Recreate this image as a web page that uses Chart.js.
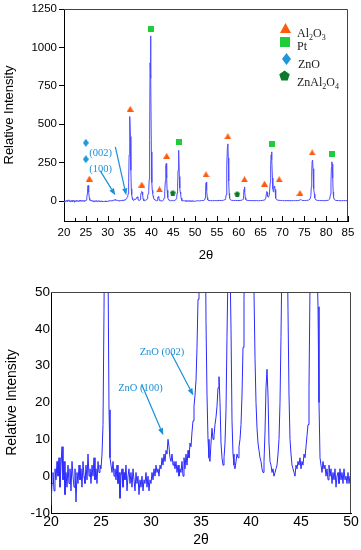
<!DOCTYPE html>
<html>
<head>
<meta charset="utf-8">
<script src="https://cdn.jsdelivr.net/npm/chart.js@4.4.1/dist/chart.umd.min.js"></script>
<style>
    body { margin: 0; background: #fff; }
    canvas { display: block; }
</style>
</head>
<body>
<canvas id="fullChart" width="361" height="270"></canvas>
<canvas id="zoomChart" width="361" height="280"></canvas>
<script>
// measured pattern, 20.0 - 50.0 deg read every 0.1 deg
var lowStart = 20
var lowStep = 0.1
var lowI = [
    -8, -2, 1, -4, 2, -1, 4, 0, 5, -3,
    3, 8, -1, 4, -5, 1, -3, 3, -2, 2,
    -4, 4, 0, -3, 2, -7, 1, -2, 3, -1,
    2, -3, 4, 0, -2, 3, -1, 6, 0, 2,
    -2, 3, 0, 5, -1, 2, -2, 4, 1, 3,
    2, 6, 14, 45, 82, 101, 96, 58, 18, 5,
    3, 1, 4, 0, 2, -1, 3, -2, 1, -6,
    0, 2, -3, 1, -1, 3, -4, 0, 2, -2,
    1, -3, 2, -1, -4, 1, -2, 0, -5, -1,
    -3, 0, -4, -1, -2, 1, -3, 0, -4, -1,
    -2, 1, -1, 2, 0, 3, 1, 2, 0, 3,
    2, 5, 3, 6, 4, 7, 6, 10, 8, 5,
    4, 6, 3, 4, 2, 4, 1, 3, 0, 2,
    1, 4, 0, 5, 2, 6, 3, 7, 5, 9,
    8, 12, 15, 19, 22, 26, 35, 48, 120, 300,
    500, 550, 420, 200, 80, 42, 22, 10, 5, 4,
    9, 13, 10, 11, 14, 16, 19, 24, 27, 20,
    9, 5, 3, 5, 9, 18, 38, 56, 62, 58,
    40, 15, 6, 3, 2, 4, 6, 5, 8, 10,
    14, 22, 35, 48, 70, 140, 400, 900, 1075, 800,
    320, 120, 70, 50, 32, 20, 13, 9, 7, 5,
    4, 2, 1, 4, 12, 24, 29, 22, 9, 4,
    3, 1, 2, 0, 1, 2, 3, 6, 10, 20,
    38, 60, 130, 230, 244, 150, 70, 45, 22, 10,
    6, 3, 2, 1, 0, 3, 2, 4, 3, 5,
    2, 4, 3, 6, 5, 8, 11, 14, 24, 52,
    90, 200, 330, 300, 160, 85, 58, 46, 20, 5,
    3, 1, 4, 2, 3, 0, 2, -1, 3, 0,
    2, -2, 1, -1, 2, -3, 0, 1, -2, 2,
    -1, 1, -2, 2, -1, 0, -2, 1, -2, 0,
    -1
]

// 50 - 85 deg, only the full-range plot shows it
var highX = [
    50.5, 51.0, 51.5, 52.0, 52.2, 52.3, 52.4, 52.5, 52.6, 52.7, 52.8, 52.9, 53.0,
    53.5, 54.0, 54.5, 55.0, 55.5, 56.0, 56.5, 56.9, 57.0, 57.1, 57.2, 57.3, 57.4, 57.5, 57.6, 57.7, 57.8, 57.9, 58.0,
    58.3, 58.8, 59.3, 59.8, 60.3, 60.8, 61.0, 61.1, 61.2, 61.3, 61.4, 61.5, 61.6, 61.8, 62.5,
    63.0, 63.5, 64.0, 64.5, 65.0, 65.5, 66.0, 66.2, 66.3, 66.4, 66.5, 66.6, 66.8,
    67.0, 67.2, 67.3, 67.4, 67.5, 67.6, 67.7, 67.8, 67.9, 68.0, 68.1, 68.2, 68.3, 68.4, 68.5, 68.7, 69.0,
    69.5, 70.0, 70.5, 71.0, 71.5, 72.0, 72.5, 73.0, 73.5, 74.0, 74.2, 74.3, 74.5, 75.0, 75.5, 76.0,
    76.3, 76.5, 76.6, 76.7, 76.8, 76.9, 77.0, 77.1, 77.2, 77.3, 77.4, 77.6, 78.0,
    78.5, 79.0, 79.5, 80.0, 80.5, 80.8, 81.0, 81.1, 81.2, 81.3, 81.4, 81.5, 81.6, 81.7, 81.9, 82.2, 82.8, 83.5, 84.0, 84.5, 85.0
]
var highI = [
    2, 1, 3, 4, 8, 20, 60, 118, 124, 70, 22, 8, 4,
    3, 2, 3, 2, 4, 3, 5, 10, 18, 40, 100, 230, 350, 372, 280, 130, 50, 20, 10,
    5, 3, 4, 3, 4, 6, 12, 35, 75, 92, 60, 22, 9, 5, 3,
    3, 2, 3, 2, 3, 4, 8, 20, 45, 62, 55, 30, 25,
    40, 120, 230, 300, 320, 270, 150, 80, 60, 70, 92, 98, 75, 40, 18, 8, 5,
    4, 3, 2, 3, 2, 3, 2, 3, 3, 6, 10, 8, 4, 3, 4, 6,
    12, 35, 90, 190, 262, 266, 210, 130, 80, 45, 20, 8, 4,
    3, 3, 2, 3, 5, 12, 45, 120, 220, 255, 240, 150, 60, 22, 8, 4, 3, 2, 3, 2, 3
]

// phase markers
var al2o3X = [25.8, 35.15, 37.8, 41.85, 43.5, 52.5, 57.5, 61.3, 65.9, 69.25, 74.0, 76.8]
var al2o3Y = [146, 600, 107, 76, 294, 174, 422, 142, 113, 142, 52, 316]
var ptX = [40.0, 46.4, 67.5, 81.4]
var ptY = [1121, 385, 374, 309]
var znoX = [25.0, 25.0]
var znoY = [379, 272]
var spinelX = [44.9, 59.65]
var spinelY = [55, 48]

var fullXTicks = [20, 25, 30, 35, 40, 45, 50, 55, 60, 65, 70, 75, 80, 85]
var fullYTicks = [0, 250, 500, 750, 1000, 1250]
var zoomXTicks = [20, 25, 30, 35, 40, 45, 50]
var zoomYTicks = [-10, 0, 10, 20, 30, 40, 50]

var pattern = []
lowI.forEach(function (v, i) {
    pattern.push({ x: +(lowStart + i * lowStep).toFixed(1), y: v })
})
highX.forEach(function (x, i) {
    pattern.push({ x: x, y: highI[i] })
})

function pairs(xs, ys) {
    return xs.map(function (x, i) { return { x: x, y: ys[i] } })
}

var C_AL = '#ff5a0a', C_PT = '#1fcc3a', C_ZNO = '#1e96dc', C_SP = '#0b7a2c', C_NOTE = '#1a8fd8'

function shape(kind, w, h, color) {
    var c = document.createElement('canvas')
    c.width = w
    c.height = h
    var g = c.getContext('2d')
    g.fillStyle = color
    g.beginPath()
    if (kind == 'tri') {
        g.moveTo(w / 2, 0); g.lineTo(w, h); g.lineTo(0, h)
    } else if (kind == 'sq') {
        g.rect(0, 0, w, h)
    } else if (kind == 'dia') {
        g.moveTo(w / 2, 0); g.lineTo(w, h / 2); g.lineTo(w / 2, h); g.lineTo(0, h / 2)
    } else {
        var r = w / 2
        for (var k = 0; k < 5; k++) {
            var a = -Math.PI / 2 + k * 2 * Math.PI / 5
            var px = w / 2 + r * Math.cos(a), py = h / 2 + 0.5 + r * Math.sin(a)
            if (k == 0) g.moveTo(px, py); else g.lineTo(px, py)
        }
    }
    g.closePath()
    g.fill()
    return c
}

function setTicks(list) {
    return function (scale) {
        scale.ticks = list.map(function (v) { return { value: v } })
    }
}

function plain(v) { return String(v) }

function arrow(ctx, x1, y1, x2, y2, color) {
    var ang = Math.atan2(y2 - y1, x2 - x1)
    var L = 7, W = 2.6
    ctx.save()
    ctx.strokeStyle = color
    ctx.fillStyle = color
    ctx.lineWidth = 1.2
    ctx.beginPath()
    ctx.moveTo(x1, y1)
    ctx.lineTo(x2 - L * Math.cos(ang), y2 - L * Math.sin(ang))
    ctx.stroke()
    ctx.beginPath()
    ctx.moveTo(x2, y2)
    ctx.lineTo(x2 - L * Math.cos(ang) + W * Math.sin(ang), y2 - L * Math.sin(ang) - W * Math.cos(ang))
    ctx.lineTo(x2 - L * Math.cos(ang) - W * Math.sin(ang), y2 - L * Math.sin(ang) + W * Math.cos(ang))
    ctx.closePath()
    ctx.fill()
    ctx.restore()
}

// draws formula with subscript digits
function chem(ctx, parts, x, y) {
    parts.forEach(function (p) {
        ctx.font = p[1] ? '8px "Liberation Serif"' : '12px "Liberation Serif"'
        ctx.fillText(p[0], x, p[1] ? y + 3 : y)
        x += ctx.measureText(p[0]).width
    })
}

var framePlugin = {
    id: 'frame',
    afterDraw: function (chart, args, opts) {
        var a = chart.chartArea, ctx = chart.ctx
        ctx.save()
        ctx.strokeStyle = '#444'
        ctx.lineWidth = 1
        ctx.beginPath()
        ctx.moveTo(a.left, a.top + 0.5)
        ctx.lineTo(a.right - 0.5, a.top + 0.5)
        ctx.lineTo(a.right - 0.5, a.bottom)
        ctx.stroke()
        if (opts.minor) {
            var xs = chart.scales.x
            ctx.strokeStyle = '#000'
            for (var v = xs.min; v <= xs.max; v += opts.minor) {
                var px = Math.round(xs.getPixelForValue(v)) + 0.5
                var len = (v % (opts.minor * 2) == 0) ? 5 : 3
                ctx.beginPath()
                ctx.moveTo(px, a.bottom)
                ctx.lineTo(px, a.bottom - len)
                ctx.stroke()
            }
        }
        ctx.restore()
    }
}

var fullNotes = {
    id: 'fullNotes',
    afterDraw: function (chart) {
        var ctx = chart.ctx, xs = chart.scales.x, ys = chart.scales.y
        function P(x, y) { return [xs.getPixelForValue(x), ys.getPixelForValue(y)] }
        ctx.save()
        ctx.fillStyle = C_NOTE
        ctx.font = '10.5px "Liberation Serif"'
        ctx.textAlign = 'center'
        var t1 = P(28.4, 292), t2 = P(28.4, 190)
        ctx.fillText('(002)', t1[0], t1[1])
        ctx.fillText('(100)', t2[0], t2[1])
        var a1 = P(31.75, 352), b1 = P(34.25, 37)
        var a2 = P(28.3, 196), b2 = P(31.75, 37)
        arrow(ctx, a1[0], a1[1], b1[0], b1[1], C_NOTE)
        arrow(ctx, a2[0], a2[1], b2[0], b2[1], C_NOTE)

        // legend
        ctx.textAlign = 'left'
        ctx.fillStyle = '#222'
        ctx.drawImage(shape('tri', 11, 10, C_AL), 280, 23)
        ctx.drawImage(shape('sq', 10, 10, C_PT), 280, 37)
        ctx.drawImage(shape('dia', 9, 12, C_ZNO), 282, 53)
        ctx.drawImage(shape('pent', 11, 11, C_SP), 279, 70)
        chem(ctx, [['Al', 0], ['2', 1], ['O', 0], ['3', 1]], 297, 37)
        chem(ctx, [['Pt', 0]], 297, 50)
        chem(ctx, [['ZnO', 0]], 298, 68)
        chem(ctx, [['ZnAl', 0], ['2', 1], ['O', 0], ['4', 1]], 297, 86)
        ctx.restore()
    }
}

var zoomNotes = {
    id: 'zoomNotes',
    afterDraw: function (chart) {
        var ctx = chart.ctx, xs = chart.scales.x, ys = chart.scales.y
        function P(x, y) { return [xs.getPixelForValue(x), ys.getPixelForValue(y)] }
        ctx.save()
        ctx.fillStyle = C_NOTE
        ctx.font = '10.5px "Liberation Serif"'
        ctx.textAlign = 'center'
        var t1 = P(31.1, 33), t2 = P(28.95, 23)
        ctx.fillText('ZnO (002)', t1[0], t1[1])
        ctx.fillText('ZnO (100)', t2[0], t2[1])
        var a1 = P(32.0, 33.5), b1 = P(34.23, 21.9)
        var a2 = P(29.07, 24.9), b2 = P(31.23, 11.1)
        arrow(ctx, a1[0], a1[1], b1[0], b1[1], C_NOTE)
        arrow(ctx, a2[0], a2[1], b2[0], b2[1], C_NOTE)
        ctx.restore()
    }
}

Chart.defaults.font.family = '"Liberation Sans", Arial, sans-serif'
Chart.defaults.color = '#000'

// full range, 20 - 85
new Chart(document.getElementById('fullChart'), {
    type: 'line',
    data: {
        datasets: [
            { data: pairs(al2o3X, al2o3Y), showLine: false, pointStyle: shape('tri', 7, 6, C_AL), pointRadius: 4 },
            { data: pairs(ptX, ptY), showLine: false, pointStyle: shape('sq', 6, 6, C_PT), pointRadius: 4 },
            { data: pairs(znoX, znoY), showLine: false, pointStyle: shape('dia', 6, 8, C_ZNO), pointRadius: 4 },
            { data: pairs(spinelX, spinelY), showLine: false, pointStyle: shape('pent', 6, 6, C_SP), pointRadius: 4 },
            { data: pattern, borderColor: '#4b4bff', borderWidth: 1, pointRadius: 0, tension: 0 }
        ]
    },
    options: {
        responsive: false,
        animation: false,
        layout: { padding: { top: 9, right: 13, left: 0, bottom: 0 } },
        plugins: { legend: { display: false }, tooltip: { enabled: false }, frame: { minor: 2.5 } },
        scales: {
            x: {
                type: 'linear', min: 20, max: 85,
                afterBuildTicks: setTicks(fullXTicks),
                afterFit: function (s) { s.height = 49 },
                grid: { drawOnChartArea: false, drawTicks: false },
                border: { color: '#000', width: 1 },
                ticks: { font: { size: 11.5 }, padding: 5, maxRotation: 0, callback: plain },
                title: { display: true, text: '2θ', font: { size: 13 }, padding: { top: 0, bottom: 7 } }
            },
            y: {
                type: 'linear', min: -130, max: 1250,
                afterBuildTicks: setTicks(fullYTicks),
                afterFit: function (s) { s.width = 64 },
                grid: { drawOnChartArea: false, drawTicks: true, tickLength: 5, color: '#000' },
                border: { color: '#000', width: 1 },
                ticks: { font: { size: 11.5 }, padding: 2, callback: plain },
                title: { display: true, text: 'Relative Intensity', font: { size: 13 }, padding: { top: 2, bottom: 0 } }
            }
        }
    },
    plugins: [framePlugin, fullNotes]
})

// low angle detail, 20 - 50
new Chart(document.getElementById('zoomChart'), {
    type: 'line',
    data: {
        datasets: [
            { data: pattern, borderColor: '#2a2aff', borderWidth: 1, pointRadius: 0, tension: 0 }
        ]
    },
    options: {
        responsive: false,
        animation: false,
        layout: { padding: { top: 22, right: 10, left: 0, bottom: 0 } },
        plugins: { legend: { display: false }, tooltip: { enabled: false }, frame: {} },
        scales: {
            x: {
                type: 'linear', min: 20, max: 50,
                afterBuildTicks: setTicks(zoomXTicks),
                afterFit: function (s) { s.height = 37 },
                grid: { drawOnChartArea: false, drawTicks: false },
                border: { color: '#000', width: 1 },
                ticks: { font: { size: 14 }, padding: 1, maxRotation: 0, callback: plain },
                title: { display: true, text: '2θ', font: { size: 14 }, padding: { top: 0, bottom: 1 } }
            },
            y: {
                type: 'linear', min: -10, max: 50,
                afterBuildTicks: setTicks(zoomYTicks),
                afterFit: function (s) { s.width = 51 },
                grid: { drawOnChartArea: false, drawTicks: false },
                border: { color: '#000', width: 1 },
                ticks: { font: { size: 13.5 }, padding: 1, callback: plain },
                title: { display: true, text: 'Relative Intensity', font: { size: 14 }, padding: { top: 3.5, bottom: 0 } }
            }
        }
    },
    plugins: [framePlugin, zoomNotes]
})
</script>
</body>
</html>
